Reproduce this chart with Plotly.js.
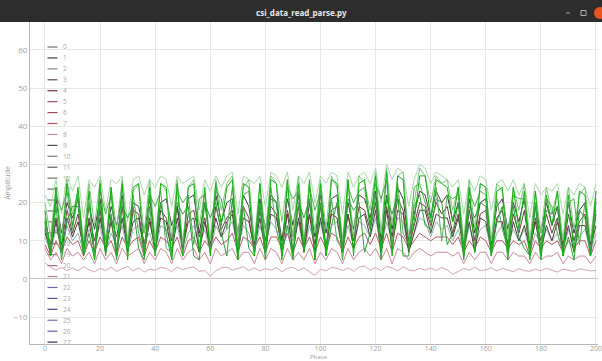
<!DOCTYPE html>
<html><head><meta charset="utf-8">
<script src="https://cdn.plot.ly/plotly-3.0.1.min.js"></script>
<style>html,body{margin:0;padding:0;background:#fff}#chart{width:602px;height:361px}</style>
</head><body><div id="chart"></div>
<script>
// x positions (sample index)
const xValues = [0,2,4,6,8,10,12,14,16,18,20,22,24,26,28,30,32,34,36,38,40,42,44,46,48,50,52,54,56,58,60,62,64,66,68,70,72,74,76,78,80,82,84,86,88,90,92,94,96,98,100,102,104,106,108,110,112,114,116,118,120,122,124,126,128,130,132,134,136,138,140,142,144,146,148,150,152,154,156,158,160,162,164,166,168,170,172,174,176,178,180,182,184,186,188,190,192,194,196,198,200];

const pinkLine = [4.2,3.1,2.3,3.0,2.2,2.9,2.1,3.2,2.4,1.9, 2.8,2.2,3.1,2.0,2.7,3.3,2.1,2.9,1.8,2.6, 2.3,3.0,2.8,1.9,3.2,2.4,2.9,3.1,2.0,2.2, 0.8,2.1,2.9,3.1,2.3,2.8,3.2,2.2,2.9,2.1, 2.7,2.3,3.0,1.9,2.8,3.1,2.2,2.9,2.0,0.9, 2.6,2.1,3.0,2.8,2.2,2.9,2.0,3.1,3.4,2.3, 3.0,2.2,3.3,2.9,2.1,3.2,2.4,2.1,2.8,2.3, 2.9,2.2,3.0,2.4,1.2,2.1,2.8,2.3,3.1,2.2, 2.4,2.9,2.1,2.8,2.3,1.9,2.7,2.2,2.0,2.6, 2.1,2.8,2.3,1.8,2.6,2.2,2.0,2.7,2.3,2.1, 2.2];
const lightRedLine = [8,5,7,4,8,6,7,5,7,4, 8,5,7,4,8,6,7,8,4,7, 5,8,7,4,8,5,7,8,5,7, 4,8,6,7,8,5,7,7,4,8, 5,8,7,4,8,5,7,5,8,4, 7,5,8,7,4,8,5,7,8,6, 8,5,8,4,8,7,5,7,8,7, 6,7,7,7,6,7,4,7,5,7, 7,4,7,7,5,7,6,6,4,7, 5,6,6,7,4,6,5,6,6,4, 6];
const redLine = [9,6,10,7,11,9,10,6,10,7, 11,8,10,6,11,8,10,11,6,10, 7,11,10,8,11,6,10,11,7,10, 8,11,9,10,12,7,11,10,8,11, 7,11,11,8,12,7,11,8,11,7, 11,8,12,11,7,11,8,11,12,9, 12,8,12,7,12,11,8,10,12,11, 10,11,11,11,9,11,7,10,8,11, 10,7,10,10,8,10,9,10,6,10, 8,10,9,10,7,10,8,10,10,6, 10];
const tealLine = [11,7,13,9,14,10,12,7,13,10, 14,7,12,9,14,7,13,14,10,12, 7,14,13,9,14,7,12,14,9,13, 7,14,11,13,15,8,14,12,7,14, 9,15,13,7,14,10,15,7,14,9, 15,8,14,15,8,14,9,15,14,11, 16,8,15,10,16,15,8,12,16,15, 11,15,13,14,10,13,7,14,9,13, 14,7,12,14,9,13,10,13,7,12, 9,13,10,12,7,13,9,11,13,7, 12];
const darkLine = [12,8,15,7,16,11,15,8,15,7, 16,8,15,7,16,8,15,16,7,15, 8,16,15,7,16,8,15,16,7,15, 8,16,11,15,17,7,16,15,8,16, 7,17,16,8,17,7,16,8,17,7, 16,8,17,16,7,17,8,16,17,11, 18,7,18,8,18,17,7,12,18,18, 12,17,16,16,11,16,8,15,7,16, 15,8,15,15,7,15,10,14,8,15, 7,14,10,15,8,14,7,14,14,8, 14];
const brownLine = [13,7,16,9,18,12,17,8,16,10, 18,7,16,11,19,7,18,17,9,16, 7,18,16,10,19,8,17,18,11,16, 7,19,13,16,18,9,19,16,7,18, 10,19,17,8,18,11,19,7,17,9, 19,8,18,19,9,17,10,19,18,13, 20,8,19,11,21,18,8,14,20,19, 14,20,17,19,12,17,7,18,10,17, 18,7,16,18,9,17,12,18,7,16, 10,17,12,16,7,17,10,15,17,7, 17];
const grayLine = [15,9,21,12,20,16,21,9,19,13, 21,10,19,14,22,9,20,19,12,21, 10,20,21,14,19,9,21,22,12,20, 9,22,15,20,21,12,22,19,9,21, 13,22,20,10,21,14,22,9,20,11, 22,12,21,22,10,20,13,22,21,16, 23,10,22,13,24,21,10,17,23,22, 16,23,20,22,15,20,9,21,12,20, 21,9,19,21,13,20,15,21,9,19, 12,20,14,19,9,20,12,18,20,9, 20];
const paleGreenLine = [22,19,26,17,27,23,27,16,26,24, 27,18,26,25,27,15,26,27,22,26, 24,27,26,19,27,25,26,27,18,26, 23,27,24,27,28,17,27,26,25,27, 19,28,27,24,28,18,27,25,28,20, 27,25,28,27,17,28,24,27,28,25, 29,20,30,26,29,28,19,26,30,29, 25,28,27,26,24,26,17,26,23,27, 26,18,25,26,23,26,22,25,16,25, 22,24,23,25,17,24,22,25,24,19, 25];
const lightGreenLine = [20,11,24,10,26,17,23,10,25,14, 26,9,24,13,26,10,23,25,12,26, 10,25,23,11,26,9,24,26,14,23, 10,26,18,25,27,11,24,26,10,25, 12,27,25,15,26,11,27,10,25,12, 26,13,27,24,10,26,11,27,25,18, 28,12,29,14,27,28,11,20,29,27, 20,27,25,26,18,24,10,26,13,25, 24,10,25,23,11,24,18,25,10,23, 12,24,17,23,10,24,13,22,24,10, 23];
const midGreenLine = [16,8,22,18,23,13,22,8,20,7, 23,17,22,7,21,8,22,12,7,22, 19,23,8,7,23,20,22,9,21,22, 7,23,21,13,24,8,22,23,7,20, 8,24,13,7,24,21,23,8,24,18, 23,8,21,10,8,24,20,23,24,13, 25,21,26,7,25,12,9,24,25,20, 15,24,10,22,21,22,8,23,19,23, 22,7,21,13,8,22,21,21,7,20, 8,21,19,12,7,20,21,9,20,7, 21];
const deepGreenLine = [14,6,19,5,15,19,19,6,12,5, 20,6,17,5,19,16,19,8,5,19, 6,20,12,5,20,17,19,6,5,20, 16,20,12,6,21,5,19,8,6,20, 5,21,20,6,14,5,20,16,21,5, 20,6,14,20,5,21,18,20,7,12, 22,5,21,17,22,6,6,19,22,14, 13,21,20,9,12,20,5,19,16,20, 19,6,15,19,5,19,11,8,6,19, 5,18,17,19,6,11,5,18,16,6, 18];
const brightGreenLine = [18,6,24,7,25,14,24,6,23,5, 25,7,24,6,25,5,24,25,6,24, 7,25,24,5,25,6,24,25,7,24, 6,25,14,24,26,5,25,24,6,25, 7,26,25,5,26,6,25,7,26,5, 25,6,26,25,7,26,6,25,26,14, 27,7,28,6,27,26,8,15,27,27, 16,26,25,24,15,24,6,24,7,25, 24,6,23,24,7,24,13,23,5,23, 6,22,14,23,6,22,7,23,22,6, 23];

// drawing order: reds first, greens last (on top)
const seriesData = [pinkLine, lightRedLine, redLine, tealLine, darkLine, brownLine, grayLine, paleGreenLine, lightGreenLine, midGreenLine, deepGreenLine, brightGreenLine];
const seriesNames = ['8','7','6','10','1','4','9','40','36','32','30','28'];
const seriesColors = ['#d6a3ab','#cc8a93','#b25a67','#8fb3a6','#4a3c3c','#6e3c3f','#3e3e3e','#a9d9a9','#7cc77c','#52ad52','#2e9e3a','#14b014'];

// legend entries visible in the reference
const legendLabels = ['0','1','2','3','4','5','6','7','8','9','10','11','12','13','14','15','16','17','18','19','20','21','22','23','24','25','26','27'];
const legendColors = ['#707070','#404040','#8a8a8a','#6a4656','#703040','#a05060','#a04a58','#c05060','#d08890','#505050','#7a7a7a','#606060','#707070','#6a6a6a','#777777','#6d6d6d','#808080','#747474','#6a6a6a','#7d7d7d','#b07080','#c08090','#6a6aa8','#555594','#45458a','#7070b0','#6060a0','#303070'];

const xTitle = 'Phase';
const yTitle = 'Amplitude';

const traces = seriesData.map((ys, i) => ({
  type: 'scatter', mode: 'lines', x: xValues, y: ys, name: seriesNames[i],
  line: {color: seriesColors[i], width: 1}, hoverinfo: 'skip', showlegend: false
}));

// pixel -> paper helpers (plot area: x 30..598, y 22..344)
const L = 30, R = 598, T = 22, B = 344;
const px = v => (v - L) / (R - L);
const py = v => (B - v) / (B - T);

const shapes = [];
const annotations = [];
// window title bar
shapes.push({type:'rect', xref:'paper', yref:'paper', x0:px(0), x1:px(602), y0:py(22), y1:py(0), fillcolor:'#2d2d2d', line:{width:0}, layer:'above'});
annotations.push({xref:'paper', yref:'paper', x:px(301), y:py(12), text:'<b>csi_data_read_parse.py</b>', showarrow:false, xanchor:'center', yanchor:'middle', font:{family:'Noto Sans, DejaVu Sans, sans-serif', size:8, color:'#e8e8e8'}});
shapes.push({type:'line', xref:'paper', yref:'paper', x0:px(566), x1:px(570), y0:py(13), y1:py(13), line:{color:'#9a9a9a', width:1}});
shapes.push({type:'rect', xref:'paper', yref:'paper', x0:px(581), x1:px(586), y0:py(15.5), y1:py(10.5), line:{color:'#b0b0b0', width:1}});
shapes.push({type:'circle', xref:'paper', yref:'paper', x0:px(594), x1:px(606), y0:py(19), y1:py(7), fillcolor:'#e95420', line:{width:0}});

// x axis title (placed low, close to the bottom edge like the reference)
annotations.push({xref:'paper', yref:'paper', x:px(318), y:py(357), text:xTitle, showarrow:false, xanchor:'center', yanchor:'middle', font:{family:'Open Sans, sans-serif', size:6, color:'#a0a0a0'}});

// legend drawn from the label/colour arrays
legendLabels.forEach((lab, k) => {
  const yy = 47 + k * 10.93;
  shapes.push({type:'line', xref:'paper', yref:'paper', x0:px(47.5), x1:px(57.5), y0:py(yy), y1:py(yy), line:{color:legendColors[k], width:1.2}, layer: (k >= 12 && k <= 19) ? 'below' : 'above'});
  annotations.push({xref:'paper', yref:'paper', x:px(61), y:py(yy), text:lab, showarrow:false, xanchor:'left', yanchor:'middle', font:{family:'Open Sans, sans-serif', size:6.5, color:'#a8a8a8'}});
});

const layout = {
  width: 602, height: 361,
  margin: {l: L, r: 602 - R, t: T, b: 361 - B, pad: 0},
  paper_bgcolor: '#ffffff', plot_bgcolor: '#ffffff',
  showlegend: false,
  xaxis: {
    range: [-5.44, 200.73], tickmode: 'array',
    tickvals: [0,20,40,60,80,100,120,140,160,180,200],
    ticklabeloverflow: 'allow', ticklabelstandoff: -2,
    showgrid: true, gridcolor: '#e7e7e7', gridwidth: 1,
    zeroline: false, showline: true, linecolor: '#b8b8b8', linewidth: 1,
    ticks: '', tickfont: {family:'Open Sans, sans-serif', size: 7, color: '#a0a0a0'},
    automargin: false
  },
  yaxis: {
    range: [-17.03, 67.3], tick0: 0, dtick: 10,
    showgrid: true, gridcolor: '#e7e7e7', gridwidth: 1,
    zeroline: true, zerolinecolor: '#c4c4c4', zerolinewidth: 1,
    showline: true, linecolor: '#b8b8b8', linewidth: 1,
    ticks: '', tickfont: {family:'Open Sans, sans-serif', size: 8, color: '#a0a0a0'},
    title: {text: yTitle, font: {family:'Open Sans, sans-serif', size: 7, color: '#a0a0a0'}, standoff: 2},
    automargin: false
  },
  shapes: shapes,
  annotations: annotations
};

Plotly.newPlot('chart', traces, layout, {displayModeBar: false, staticPlot: true});
</script>
</body></html>
